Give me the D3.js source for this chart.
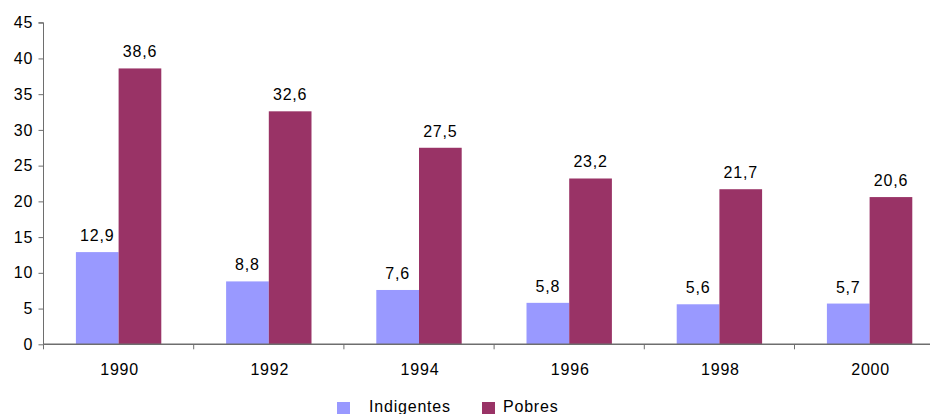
<!DOCTYPE html>
<html>
<head>
<meta charset="utf-8">
<script src="https://cdn.jsdelivr.net/npm/d3@7"></script>
<style>
  html, body { margin: 0; padding: 0; background: #fff; }
  svg { display: block; font-family: "Liberation Sans", Arial, sans-serif; }
</style>
</head>
<body>
<svg id="chart" width="930" height="414"></svg>
<script>
const categories = ["1990", "1992", "1994", "1996", "1998", "2000"];
const seriesNames = ["Indigentes", "Pobres"];
const indigentes = [12.9, 8.8, 7.6, 5.8, 5.6, 5.7];
const pobres = [38.6, 32.6, 27.5, 23.2, 21.7, 20.6];
const yTicks = [0, 5, 10, 15, 20, 25, 30, 35, 40, 45];
const colors = ["#9999FF", "#993366"];

const seriesValues = [indigentes, pobres];
const svg = d3.select("#chart");

const left = 43.5, bandStep = 150.2;
const x0 = d3.scaleBand().domain(categories)
  .range([left, left + bandStep * categories.length]).paddingInner(0).paddingOuter(0);
const x1 = d3.scaleBand().domain(seriesNames)
  .range([0, x0.bandwidth()]).paddingInner(0).paddingOuter(0.759);
const y = d3.scaleLinear().domain([0, 45]).range([344.3, 22.7]);

const axisColor = "#6e6e6e";

// bars
seriesNames.forEach((s, si) => {
  svg.append("g").selectAll("rect")
    .data(categories.map((c, i) => ({ c, v: seriesValues[si][i] })))
    .join("rect")
    .attr("x", d => x0(d.c) + x1(s))
    .attr("width", x1.bandwidth())
    .attr("y", d => y(d.v))
    .attr("height", d => y(0) - y(d.v))
    .attr("fill", colors[si]);
});

// value labels
seriesNames.forEach((s, si) => {
  svg.append("g").selectAll("text")
    .data(categories.map((c, i) => ({ c, v: seriesValues[si][i] })))
    .join("text")
    .attr("x", d => x0(d.c) + x1(s) + x1.bandwidth() / 2)
    .attr("y", d => y(d.v) - 11)
    .attr("text-anchor", "middle")
    .attr("font-size", 16)
    .attr("letter-spacing", 0.8)
    .attr("fill", "#000")
    .text(d => d3.format(".1f")(d.v).replace(".", ","));
});

// y axis
const yAxis = d3.axisLeft(y).tickValues(yTicks).tickSize(5).tickPadding(5).tickFormat(d3.format("d"));
const gy = svg.append("g").attr("transform", `translate(${left},0)`).call(yAxis)
  .attr("font-size", 16).attr("font-family", "Liberation Sans, Arial, sans-serif");
gy.select(".domain").attr("stroke", axisColor).attr("d", `M-5,${y(45)}H0V${y(0)}`);
gy.selectAll(".tick line").attr("stroke", axisColor);
gy.selectAll(".tick text").attr("fill", "#000").attr("letter-spacing", 1);

// x axis
const gx = svg.append("g").attr("transform", `translate(0,${y(0)})`);
gx.append("line").attr("x1", left).attr("x2", 930).attr("y1", 0).attr("y2", 0)
  .attr("stroke", axisColor).attr("stroke-width", 1.5);
const boundaries = categories.map(c => x0(c));
gx.selectAll("line.tk").data(boundaries).join("line").attr("class", "tk")
  .attr("x1", d => d).attr("x2", d => d).attr("y1", 0).attr("y2", 5)
  .attr("stroke", axisColor);
gx.selectAll("text").data(categories).join("text")
  .attr("x", d => x0(d) + x0.bandwidth() / 2 + 1)
  .attr("y", 31)
  .attr("text-anchor", "middle")
  .attr("font-size", 16)
  .attr("letter-spacing", 0.8)
  .attr("fill", "#000")
  .text(d => d);

// legend
const legendItems = [
  { name: seriesNames[0], color: colors[0], sx: 337, tx: 369 },
  { name: seriesNames[1], color: colors[1], sx: 482, tx: 503 }
];
const lg = svg.append("g");
legendItems.forEach(it => {
  lg.append("rect").attr("x", it.sx).attr("y", 402).attr("width", 13).attr("height", 13).attr("fill", it.color);
  lg.append("text").attr("x", it.tx).attr("y", 412).attr("font-size", 16)
    .attr("letter-spacing", 0.8).attr("fill", "#000").text(it.name);
});
</script>
</body>
</html>
